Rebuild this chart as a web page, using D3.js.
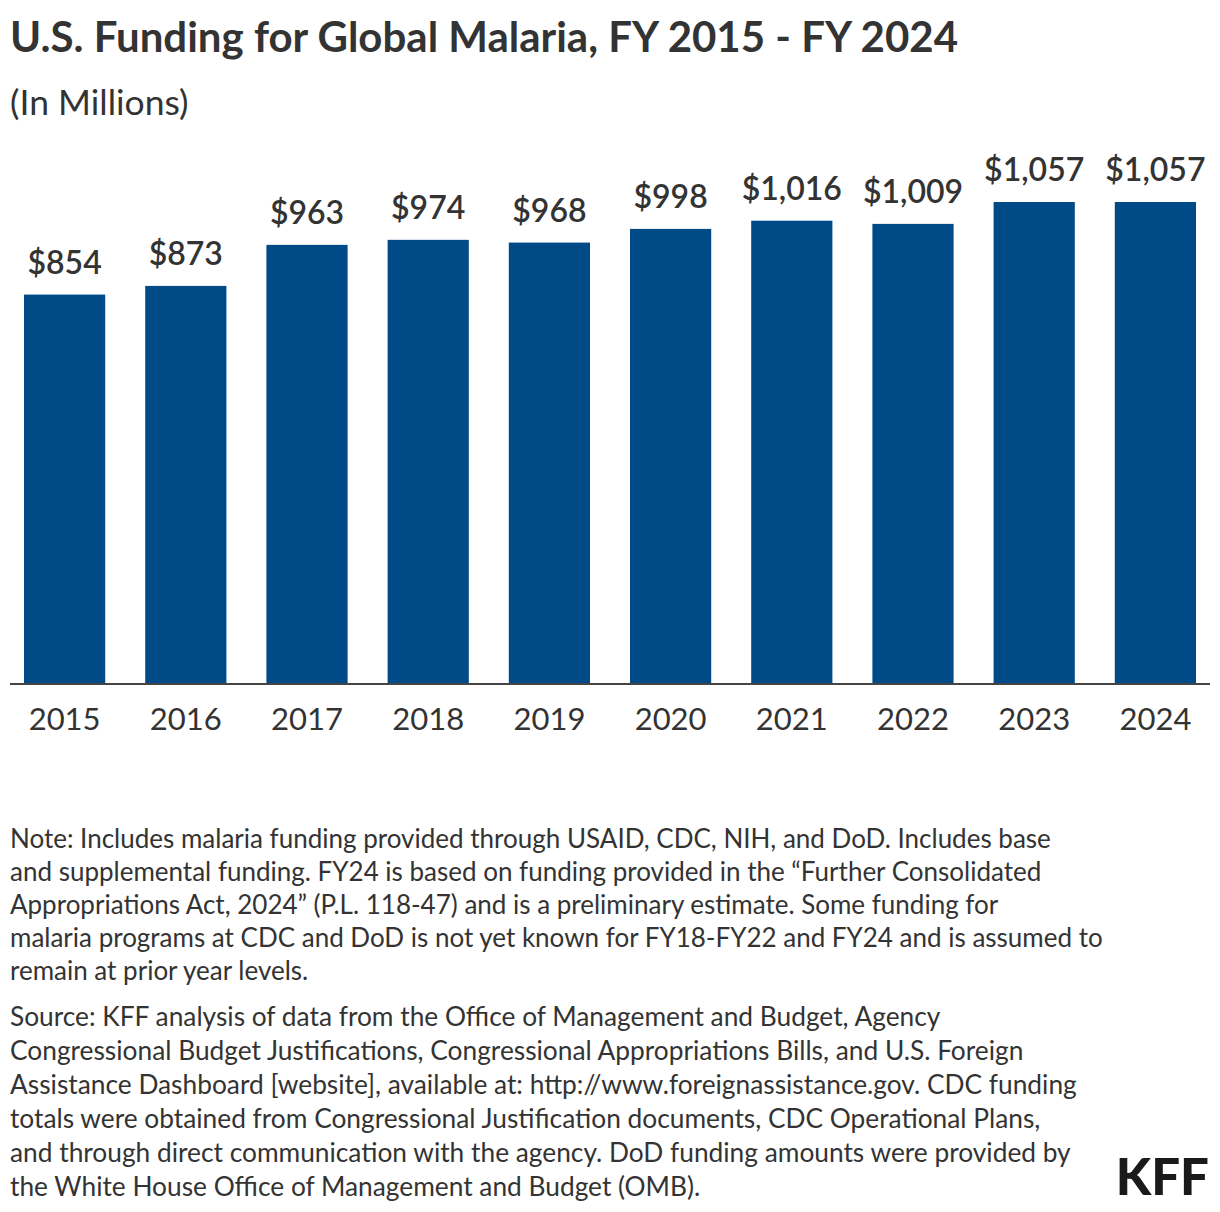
<!DOCTYPE html>
<html><head><meta charset="utf-8">
<script src="https://cdn.jsdelivr.net/npm/d3@7"></script>
<style>
body{margin:0;background:#fff;}
svg{display:block;}
text{font-family:"Lato","Noto Sans",sans-serif;fill:#333;}
</style></head>
<body><svg id="c" width="1220" height="1212"></svg>
<script>
const years = ["2015","2016","2017","2018","2019","2020","2021","2022","2023","2024"];
const funding = [854, 873, 963, 974, 968, 998, 1016, 1009, 1057, 1057];
const title = "U.S. Funding for Global Malaria, FY 2015 - FY 2024";
const subtitle = "(In Millions)";
const noteLines = [
 "Note: Includes malaria funding provided through USAID, CDC, NIH, and DoD. Includes base",
 "and supplemental funding. FY24 is based on funding provided in the \u201cFurther Consolidated",
 "Appropriations Act, 2024\u201d (P.L. 118-47) and is a preliminary estimate. Some funding for",
 "malaria programs at CDC and DoD is not yet known for FY18-FY22 and FY24 and is assumed to",
 "remain at prior year levels."
];
const sourceLines = [
 "Source: KFF analysis of data from the Office of Management and Budget, Agency",
 "Congressional Budget Justifications, Congressional Appropriations Bills, and U.S. Foreign",
 "Assistance Dashboard [website], available at: http://www.foreignassistance.gov. CDC funding",
 "totals were obtained from Congressional Justification documents, CDC Operational Plans,",
 "and through direct communication with the agency. DoD funding amounts were provided by",
 "the White House Office of Management and Budget (OMB)."
];

const svg = d3.select("#c");
svg.append("text").attr("x",10).attr("y",52).attr("font-size",42).attr("font-weight",700).text(title);
svg.append("text").attr("x",10).attr("y",115).attr("font-size",35.5).text(subtitle);

const x = d3.scaleBand().domain(years).range([4,1216]).paddingInner(0.33).paddingOuter(0.165);
const y = d3.scaleLinear().domain([0,1057]).range([684,202]);

svg.selectAll("rect.bar").data(years).join("rect").attr("class","bar")
  .attr("x",d=>x(d)).attr("width",x.bandwidth())
  .attr("y",(d,i)=>y(funding[i])).attr("height",(d,i)=>y(0)-y(funding[i]))
  .attr("fill","#004a87");

svg.selectAll("text.val").data(years).join("text").attr("class","val")
  .attr("x",d=>x(d)+x.bandwidth()/2).attr("y",(d,i)=>y(funding[i])-21)
  .attr("text-anchor","middle").attr("font-size",32).attr("font-weight",600)
  .text((d,i)=>"$"+d3.format(",")(funding[i]));

const ax = svg.append("g").attr("transform","translate(0,684)")
  .call(d3.axisBottom(x).tickSize(0).tickPadding(24));
ax.select(".domain").remove();
ax.selectAll("text").attr("font-size",31).attr("fill","#333").attr("font-family","Lato, 'Noto Sans', sans-serif").attr("dy","0.71em").attr("y",24);
svg.append("line").attr("x1",10).attr("x2",1210).attr("y1",684).attr("y2",684).attr("stroke","#444").attr("stroke-width",2);

const nt = svg.append("text").attr("font-size",26);
noteLines.forEach((l,i)=>nt.append("tspan").attr("x",10).attr("y",848+i*33).text(l));
const st = svg.append("text").attr("font-size",26.3);
sourceLines.forEach((l,i)=>st.append("tspan").attr("x",10).attr("y",1026+i*34).text(l));

svg.append("text").attr("x",1209).attr("y",1195).attr("text-anchor","end").attr("font-size",51).attr("font-weight",900)
  .style("fill","#1a1a1a").attr("font-family","Roboto, 'Noto Sans', sans-serif").text("KFF");
</script></body></html>
